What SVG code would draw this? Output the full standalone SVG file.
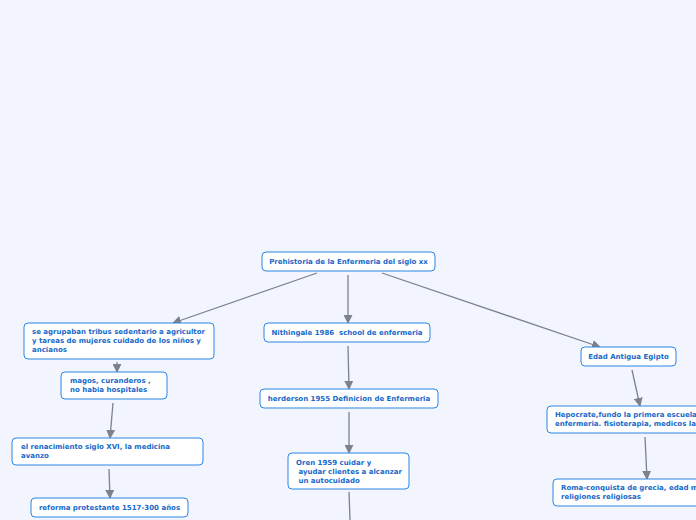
<svg xmlns="http://www.w3.org/2000/svg" width="696" height="520" viewBox="0 0 696 520">
<defs>
<marker id="ah" viewBox="0 0 10 10" refX="9" refY="5" markerWidth="9" markerHeight="9" markerUnits="userSpaceOnUse" orient="auto">
<path d="M0,0 L10,5 L0,10 z" fill="#7d818c"/>
</marker>
<style>
.box{fill:#ffffff;stroke:#2a86e2;stroke-width:1}
.t{font-family:"DejaVu Sans",Verdana,sans-serif;font-weight:bold;font-size:7px;fill:#1769c9}
.c{text-anchor:middle}
.ln{stroke:#7d818c;stroke-width:1.3;fill:none;marker-end:url(#ah)}
</style>
</defs>
<rect width="696" height="520" fill="#f2f5fd"/>
<g id="connectors">
<line class="ln" x1="317" y1="273" x2="173" y2="323"/>
<line class="ln" x1="348" y1="275" x2="348" y2="323"/>
<line class="ln" x1="382" y1="273" x2="600" y2="347"/>
<line class="ln" x1="117" y1="362" x2="117" y2="372"/>
<line class="ln" x1="113" y1="403" x2="110" y2="438"/>
<line class="ln" x1="109" y1="469" x2="110" y2="498"/>
<line class="ln" x1="348" y1="346" x2="349" y2="389"/>
<line class="ln" x1="349" y1="412" x2="349" y2="453"/>
<line x1="349" y1="492" x2="350" y2="520" stroke="#7d818c" stroke-width="1.3"/>
<line class="ln" x1="632" y1="370" x2="640" y2="406"/>
<line class="ln" x1="645" y1="437" x2="647" y2="479"/>
</g>
<g id="root"><rect class="box" x="262" y="252" width="173" height="19" rx="4"/><text class="t c" x="348.5" y="264">Prehistoria de la Enfermeria del siglo xx</text></g>
<g id="tribus"><rect class="box" x="24" y="323" width="190" height="36" rx="4"/><text class="t" x="32" y="334">se agrupaban tribus sedentario a agricultor</text><text class="t" x="32" y="343">y tareas de mujeres cuidado de los niños y</text><text class="t" x="32" y="352">ancianos</text></g>
<g id="magos"><rect class="box" x="61" y="372" width="106" height="27" rx="4"/><text class="t" x="70" y="383">magos, curanderos ,</text><text class="t" x="70" y="392">no habia hospitales</text></g>
<g id="renacimiento"><rect class="box" x="12" y="438" width="191" height="27" rx="4"/><text class="t" x="21" y="449">el renacimiento siglo XVI, la medicina</text><text class="t" x="21" y="458">avanzo</text></g>
<g id="reforma"><rect class="box" x="31" y="498" width="157" height="19" rx="4"/><text class="t c" x="109.5" y="510">reforma protestante 1517-300 años</text></g>
<g id="nithingale"><rect class="box" x="264" y="323" width="166" height="19" rx="4"/><text class="t c" x="347" y="335" xml:space="preserve">Nithingale 1986  school de enfermeria</text></g>
<g id="herderson"><rect class="box" x="260" y="389" width="178" height="19" rx="4"/><text class="t c" x="349" y="401">herderson 1955 Definicion de Enfermeria</text></g>
<g id="oren"><rect class="box" x="288" y="453" width="121" height="36" rx="4"/><text class="t" x="296" y="465" xml:space="preserve">Oren 1959 cuidar y</text><text class="t" x="296" y="474" xml:space="preserve"> ayudar clientes a alcanzar</text><text class="t" x="296" y="483" xml:space="preserve"> un autocuidado</text></g>
<g id="egipto"><rect class="box" x="581" y="347" width="95" height="19" rx="4"/><text class="t c" x="628.5" y="359">Edad Antigua Egipto</text></g>
<g id="hepocrate"><rect class="box" x="547" y="406" width="170" height="27" rx="4"/><text class="t" x="555" y="417">Hepocrate,fundo la primera escuela de</text><text class="t" x="555" y="426">enfermeria. fisioterapia, medicos laicos</text></g>
<g id="roma"><rect class="box" x="553" y="479" width="170" height="27" rx="4"/><text class="t" x="561" y="490">Roma-conquista de grecia, edad media</text><text class="t" x="561" y="499">religiones religiosas</text></g>
</svg>
